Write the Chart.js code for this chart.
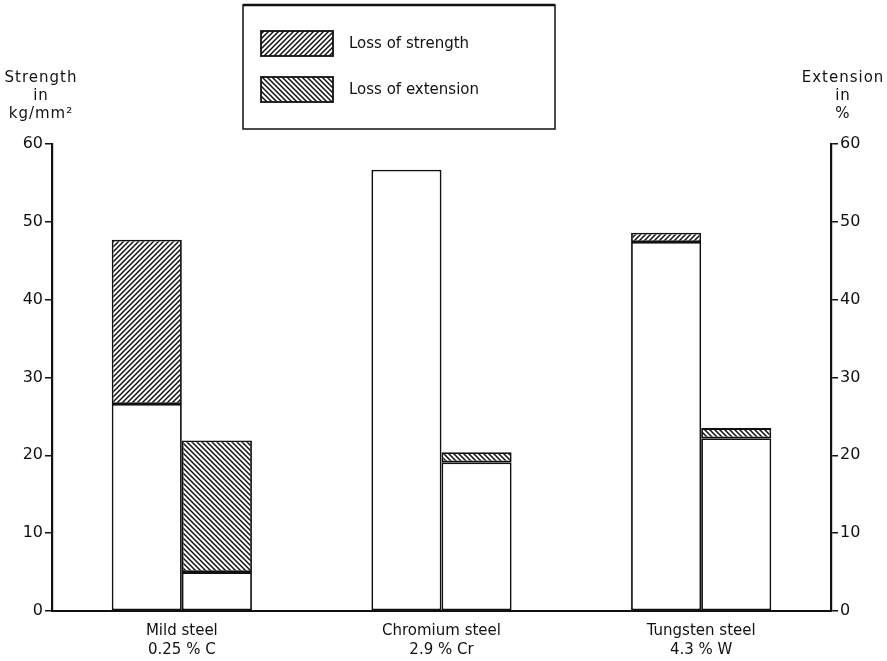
<!DOCTYPE html>
<html>
<head>
<meta charset="utf-8">
<script src="https://cdn.jsdelivr.net/npm/chart.js@4.4.1/dist/chart.umd.min.js"></script>
<style>
  html, body { margin: 0; padding: 0; background: #fff; }
  #wrap { width: 887px; height: 661px; }
</style>
</head>
<body>
<div id="wrap"><canvas id="steel-chart"></canvas></div>
<script>
const steels = [
    ['Mild steel', '0.25 % C'],
    ['Chromium steel', '2.9 % Cr'],
    ['Tungsten steel', '4.3 % W'],
]
// kg/mm2, what is left and what is lost
const strengthKept = [26.6, 56.7, 47.4]
const strengthLoss = [21.1, null, 1.2]
// percent
const extensionKept = [5.0, 19.1, 22.2]
const extensionLoss = [16.9, 1.3, 1.3]

const axisTicks = [0, 10, 20, 30, 40, 50, 60]
const leftTitle = ['Strength', 'in', 'kg/mm²']
const rightTitle = ['Extension', 'in', '%']
const legendLabels = ['Loss of strength', 'Loss of extension']

const ink = '#111'
const font = 'DejaVu Sans'

// diagonal hatch, dir 1 = "/" , dir -1 = "\"
function hatch(dir) {
    const s = 5
    const c = document.createElement('canvas')
    c.width = s
    c.height = s
    const g = c.getContext('2d')
    g.fillStyle = '#fff'
    g.fillRect(0, 0, s, s)
    g.strokeStyle = ink
    g.lineWidth = 1.5
    g.beginPath()
    if (dir > 0) {
        g.moveTo(-1, s + 1); g.lineTo(s + 1, -1)
        g.moveTo(-1, 1); g.lineTo(1, -1)
        g.moveTo(s - 1, s + 1); g.lineTo(s + 1, s - 1)
    } else {
        g.moveTo(-1, -1); g.lineTo(s + 1, s + 1)
        g.moveTo(s - 1, -1); g.lineTo(s + 1, 1)
        g.moveTo(-1, s - 1); g.lineTo(1, s + 1)
    }
    g.stroke()
    return g.createPattern(c, 'repeat')
}
const strengthHatch = hatch(1)
const extensionHatch = hatch(-1)

const barStyle = {
    borderColor: ink,
    borderWidth: 1.8,
    borderSkipped: false,
    categoryPercentage: 0.54,
    barPercentage: 1.0,
}

const steelData = {
    labels: steels,
    datasets: [
        { ...barStyle, label: 'Strength', data: strengthKept, backgroundColor: '#fff', stack: 'strength', yAxisID: 'y' },
        { ...barStyle, label: legendLabels[0], data: strengthLoss, backgroundColor: strengthHatch, stack: 'strength', yAxisID: 'y' },
        { ...barStyle, label: 'Extension', data: extensionKept, backgroundColor: '#fff', stack: 'extension', yAxisID: 'y2' },
        { ...barStyle, label: legendLabels[1], data: extensionLoss, backgroundColor: extensionHatch, stack: 'extension', yAxisID: 'y2' },
    ],
}

const valueAxis = (side) => ({
    type: 'linear',
    position: side,
    stacked: true,
    min: 0,
    max: 60,
    afterBuildTicks: (scale) => { scale.ticks = axisTicks.map(v => ({ value: v })) },
    afterFit: (scale) => { scale.width = side === 'left' ? 52 : 56 },
    border: { display: true, color: ink, width: 2.2 },
    grid: { drawOnChartArea: false, drawTicks: true, tickLength: 7, color: ink, lineWidth: 1.5 },
    ticks: { color: ink, padding: 2, font: { family: font, size: 16 } },
})

// legend box and the axis headings
const notes = {
    id: 'notes',
    afterDraw(chart) {
        const c = chart.ctx
        c.save()
        c.strokeStyle = ink
        c.fillStyle = ink
        c.lineWidth = 1.5
        c.strokeRect(243, 5, 312, 124)
        c.lineWidth = 2.5
        c.beginPath(); c.moveTo(243, 5); c.lineTo(555, 5); c.stroke()

        const swatches = [strengthHatch, extensionHatch]
        c.font = '15px ' + font
        c.textBaseline = 'middle'
        c.textAlign = 'left'
        legendLabels.forEach((txt, i) => {
            const y = 31 + i * 46
            c.fillStyle = swatches[i]
            c.fillRect(261, y, 72, 25)
            c.lineWidth = 1.8
            c.strokeRect(261, y, 72, 25)
            c.fillStyle = ink
            c.fillText(txt, 349, y + 13)
        })

        c.font = '15px ' + font
        c.letterSpacing = '1px'
        c.textAlign = 'center'
        leftTitle.forEach((t, i) => c.fillText(t, 41, 78 + i * 18))
        rightTitle.forEach((t, i) => c.fillText(t, 843, 78 + i * 18))
        c.restore()
    }
}

const steelConfig = {
    type: 'bar',
    data: steelData,
    plugins: [notes],
    options: {
        responsive: true,
        maintainAspectRatio: false,
        animation: false,
        layout: { padding: { top: 144, left: 0, right: 0, bottom: 0 } },
        plugins: {
            legend: { display: false },
            tooltip: { enabled: false },
        },
        scales: {
            x: {
                stacked: true,
                afterFit: (scale) => { scale.height = 50 },
                border: { display: true, color: ink, width: 2 },
                grid: { display: false },
                ticks: { color: ink, padding: 2, font: { family: font, size: 15, lineHeight: 1.3 } },
            },
            y: valueAxis('left'),
            y2: valueAxis('right'),
        },
    },
}

const ctx = document.getElementById('steel-chart')
const steelChart = new Chart(ctx, steelConfig)
</script>
</body>
</html>
